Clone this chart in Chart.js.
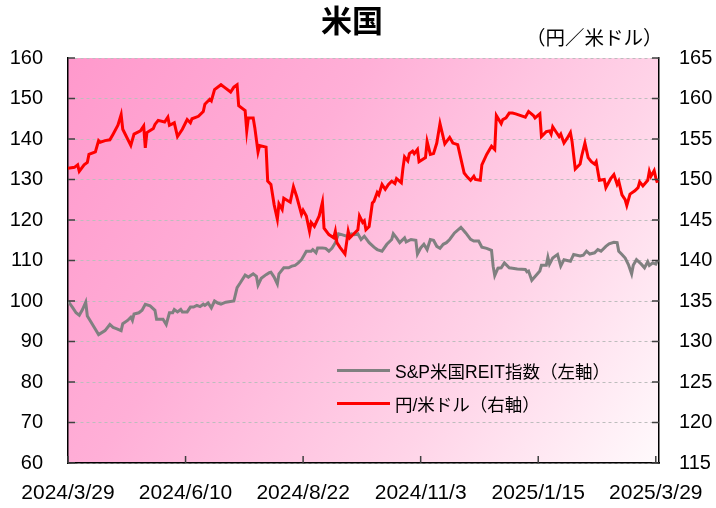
<!DOCTYPE html>
<html lang="ja">
<head>
<meta charset="utf-8">
<title>米国</title>
<script src="https://cdn.jsdelivr.net/npm/chart.js@4.4.1/dist/chart.umd.min.js"></script>
<style>
body { margin: 0; background: #fff; font-family: "Liberation Sans", "Noto Sans CJK JP", sans-serif; }
#wrap { position: relative; width: 716px; height: 508px; }
#title { position: absolute; left: 0; top: 3px; width: 704px; text-align: center; font-size: 31px; line-height: 1; font-weight: bold; font-family: "Noto Sans CJK JP", sans-serif; }
#unit { position: absolute; left: 526px; top: 27px; font-size: 19.5px; line-height: 1; font-family: "Noto Sans CJK JP", sans-serif; }
.item { position: absolute; left: 337px; height: 20px; display: flex; align-items: center; font-size: 17.5px; white-space: nowrap; }
.swatch { width: 53px; height: 3px; margin-right: 5px; }
</style>
</head>
<body>
<div id="wrap">
  <canvas id="canvas" width="716" height="508"></canvas>
  <div id="title">米国</div>
  <div id="unit">（円／米ドル）</div>
  <div id="legend"></div>
</div>
<script>
var tickDays = [0, 73, 146, 219, 292, 365];
var tickLabels = ['2024/3/29', '2024/6/10', '2024/8/22', '2024/11/3', '2025/1/15', '2025/3/29'];

// days since 2024/3/29
var reitDays = [0, 3, 5, 7, 9, 11, 12, 14, 17, 19, 23, 26, 28, 30, 33, 34, 37, 39, 40, 41,
    44, 46, 48, 51, 54, 55, 59, 61, 63, 65, 66, 68, 70, 71, 74, 76, 78, 80, 82, 84,
    85, 87, 89, 91, 93, 95, 98, 103, 105, 107, 110, 112, 115, 117, 118, 120, 123, 125, 126, 128,
    130, 131, 134, 137, 139, 141, 143, 145, 148, 151, 152, 154, 155, 158, 160, 162, 164, 166, 168, 170,
    173, 176, 178, 180, 182, 184, 187, 190, 192, 195, 198, 201, 202, 204, 206, 209, 210, 213, 216, 217,
    219, 221, 223, 225, 227, 229, 231, 233, 235, 237, 240, 244, 247, 250, 252, 255, 257, 260, 263, 264,
    265, 267, 269, 271, 274, 276, 279, 284, 285, 286, 288, 291, 293, 294, 297, 298, 299, 301, 304, 306,
    308, 312, 314, 318, 320, 322, 324, 327, 329, 331, 334, 336, 339, 341, 342, 344, 346, 348, 350, 351,
    353, 356, 358, 360, 361, 363, 365, 366];
var reitValues = [100.0, 98.3, 97.1, 96.5, 97.9, 99.7, 96.3, 95.0, 93.0, 91.7, 92.7, 94.2, 93.5, 93.2, 92.7, 94.4, 95.2, 96.0, 95.2, 96.8,
    97.1, 97.7, 99.2, 98.8, 97.7, 95.5, 95.5, 94.2, 97.1, 97.1, 97.9, 97.3, 97.9, 97.3, 97.3, 98.5, 98.5, 98.9, 98.6, 99.2,
    98.9, 99.5, 98.3, 100.0, 99.5, 99.2, 99.7, 100.0, 103.3, 104.5, 106.4, 105.9, 106.7, 106.1, 103.9, 105.6, 106.5, 107.0, 107.1, 105.9,
    104.2, 106.7, 108.2, 108.2, 108.6, 108.8, 109.4, 110.2, 112.3, 112.3, 112.7, 111.9, 113.1, 113.1, 113.0, 112.3, 113.1, 114.4, 116.6, 116.4,
    116.0, 116.6, 116.4, 116.6, 115.2, 116.0, 114.4, 113.3, 112.7, 112.3, 114.0, 115.2, 116.6, 115.6, 114.4, 115.6, 114.6, 115.2, 115.0, 111.6,
    113.1, 114.0, 112.7, 115.2, 115.0, 113.5, 113.0, 114.0, 114.4, 115.2, 116.8, 118.2, 116.8, 115.2, 114.8, 114.8, 113.3, 113.0, 112.5, 108.6,
    106.3, 108.1, 108.2, 109.4, 108.2, 108.1, 107.9, 107.8, 107.2, 107.4, 105.1, 106.5, 107.4, 108.8, 108.8, 110.8, 109.1, 110.6, 111.5, 108.6,
    110.2, 109.8, 111.5, 111.1, 111.3, 112.3, 111.6, 111.9, 112.7, 112.3, 113.5, 114.1, 114.5, 114.4, 112.3, 111.5, 110.6, 109.0, 106.7, 108.8,
    110.2, 109.1, 108.2, 109.7, 108.8, 109.4, 109.1, 110.0];

var fxDays = [0, 4, 6, 7, 10, 12, 13, 17, 19, 20, 23, 26, 28, 31, 33, 34, 39, 41, 45, 47,
    48, 49, 53, 54, 56, 60, 62, 63, 66, 68, 71, 74, 76, 77, 81, 84, 85, 88, 89, 91,
    95, 97, 101, 103, 105, 106, 110, 111, 112, 115, 116, 118, 119, 123, 124, 126, 128, 130, 131, 133,
    134, 138, 140, 142, 145, 146, 148, 150, 151, 153, 156, 158, 159, 162, 165, 166, 167, 169, 172, 174,
    175, 178, 180, 181, 183, 184, 185, 187, 189, 190, 192, 193, 195, 197, 199, 201, 203, 204, 207, 208,
    209, 211, 212, 214, 215, 217, 218, 222, 223, 225, 227, 229, 231, 234, 237, 239, 242, 246, 248, 250,
    252, 253, 256, 257, 260, 263, 265, 266, 269, 270, 272, 274, 276, 278, 284, 286, 289, 290, 293, 294,
    297, 299, 300, 301, 303, 305, 306, 308, 310, 312, 313, 315, 318, 319, 321, 323, 325, 327, 328, 330,
    333, 334, 337, 339, 341, 342, 344, 346, 347, 349, 352, 354, 355, 357, 360, 361, 362, 364, 365, 366];
var fxValues = [151.4, 151.5, 151.8, 151.0, 151.8, 152.1, 153.1, 153.4, 154.8, 154.6, 154.8, 154.9, 155.6, 156.7, 158.0, 156.2, 154.2, 155.6, 156.0, 156.6,
    153.9, 155.8, 156.3, 156.8, 157.3, 157.1, 157.7, 156.7, 157.0, 155.3, 156.2, 157.4, 157.0, 157.5, 157.8, 158.4, 159.3, 159.9, 159.7, 161.1,
    161.7, 161.4, 160.8, 161.4, 161.7, 159.1, 158.5, 156.0, 157.6, 157.6, 156.4, 153.4, 154.2, 154.0, 149.8, 149.4, 146.9, 145.1, 147.0, 146.3,
    147.7, 147.2, 149.1, 147.9, 145.7, 146.2, 145.5, 143.6, 144.7, 144.2, 145.5, 147.2, 144.0, 143.2, 142.8, 143.6, 142.2, 141.6, 140.8, 143.6,
    142.8, 143.4, 143.8, 145.5, 144.7, 144.9, 143.8, 144.2, 147.1, 147.3, 148.4, 148.1, 149.4, 148.8, 149.4, 149.8, 149.5, 150.1, 149.6, 151.4,
    152.8, 152.3, 153.2, 153.5, 153.2, 153.7, 152.2, 152.7, 154.7, 153.1, 153.2, 154.5, 156.9, 154.4, 155.2, 154.5, 154.3, 150.8, 150.3, 149.9,
    150.4, 150.0, 149.9, 151.8, 153.1, 154.1, 153.7, 157.9, 156.9, 157.4, 157.6, 158.2, 158.2, 158.1, 157.7, 158.4, 157.9, 157.6, 158.1, 155.3,
    155.9, 156.0, 155.6, 156.5, 155.9, 155.3, 155.6, 154.5, 155.1, 155.8, 154.7, 151.3, 151.9, 152.9, 154.5, 152.7, 152.2, 151.9, 152.2, 149.9,
    150.0, 149.0, 150.1, 150.6, 149.4, 149.8, 148.1, 147.5, 146.8, 148.2, 148.6, 149.0, 149.7, 149.2, 149.9, 151.0, 150.4, 151.1, 150.2, 149.6];

function points(days, values) {
    return days.map(function(d, i) { return {x: d, y: values[i]}; });
}

var plotBackground = {
    id: 'plotBackground',
    beforeDraw: function(chart) {
        var a = chart.chartArea, c = chart.ctx;
        var g = c.createLinearGradient(a.left, a.top, a.right, a.bottom);
        g.addColorStop(0, '#ff99cc');
        g.addColorStop(0.35, '#ffafd7');
        g.addColorStop(0.7, '#ffd4e8');
        g.addColorStop(1, '#fffafc');
        c.save();
        c.fillStyle = g;
        c.fillRect(a.left, a.top, a.right - a.left, a.bottom - a.top);
        c.restore();
    }
};

// tick marks point into the plot
var innerTicks = {
    id: 'innerTicks',
    afterDraw: function(chart) {
        var a = chart.chartArea, c = chart.ctx, s = chart.scales;
        c.save();
        c.strokeStyle = '#404040';
        c.lineWidth = 1.5;
        c.beginPath();
        s.y.ticks.forEach(function(t) {
            var p = s.y.getPixelForValue(t.value);
            c.moveTo(a.left, p); c.lineTo(a.left + 7, p);
        });
        s.y1.ticks.forEach(function(t) {
            var p = s.y1.getPixelForValue(t.value);
            c.moveTo(a.right - 7, p); c.lineTo(a.right, p);
        });
        s.x.ticks.forEach(function(t) {
            var p = s.x.getPixelForValue(t.value);
            c.moveTo(p, a.bottom); c.lineTo(p, a.bottom - 7);
        });
        c.stroke();
        c.restore();
    }
};

var tickFont = {family: '"Liberation Sans", Arial, sans-serif', size: 20};

var ctx = document.getElementById('canvas').getContext('2d');
var chart = new Chart(ctx, {
    type: 'line',
    data: {
        datasets: [{
            label: 'S&P米国REIT指数（左軸）',
            data: points(reitDays, reitValues),
            borderColor: '#808080',
            borderWidth: 3,
            pointRadius: 0,
            yAxisID: 'y',
            order: 1
        }, {
            label: '円/米ドル（右軸）',
            data: points(fxDays, fxValues),
            borderColor: '#ff0000',
            borderWidth: 3,
            pointRadius: 0,
            yAxisID: 'y1',
            order: 0
        }]
    },
    options: {
        responsive: false,
        animation: false,
        devicePixelRatio: 1,
        layout: {padding: {top: 58, left: 0, right: 0, bottom: 0}},
        plugins: {legend: {display: false}, tooltip: {enabled: false}},
        scales: {
            x: {
                type: 'linear',
                min: 0,
                max: 367,
                afterBuildTicks: function(s) { s.ticks = tickDays.map(function(v) { return {value: v}; }); },
                afterFit: function(s) { s.height = 45; s.paddingLeft = 0; s.paddingRight = 0; },
                ticks: {
                    callback: function(v) { return tickLabels[tickDays.indexOf(v)]; },
                    autoSkip: false,
                    maxRotation: 0,
                    padding: 18,
                    color: '#000',
                    font: {family: tickFont.family, size: 21}
                },
                grid: {drawOnChartArea: false, drawTicks: false},
                border: {color: '#000', width: 1.5}
            },
            y: {
                position: 'left',
                min: 60,
                max: 160,
                afterFit: function(s) { s.width = 68; },
                ticks: {stepSize: 10, padding: 25, color: '#000', font: tickFont},
                grid: {color: '#bdbdbd', lineWidth: 1, drawTicks: false},
                border: {color: '#000', width: 1.5, dash: [3, 3]}
            },
            y1: {
                position: 'right',
                min: 115,
                max: 165,
                afterFit: function(s) { s.width = 57; },
                ticks: {stepSize: 5, padding: 20, color: '#000', font: tickFont},
                grid: {drawOnChartArea: false, drawTicks: false},
                border: {color: '#000', width: 1.5}
            }
        }
    },
    plugins: [plotBackground, innerTicks]
});

// legend inside the plot, built from the datasets
var legend = document.getElementById('legend');
var legendTops = [360, 393];
chart.data.datasets.forEach(function(ds, i) {
    var item = document.createElement('div');
    item.className = 'item';
    item.style.top = legendTops[i] + 'px';
    var sw = document.createElement('span');
    sw.className = 'swatch';
    sw.style.background = ds.borderColor;
    var tx = document.createElement('span');
    tx.textContent = ds.label;
    item.appendChild(sw);
    item.appendChild(tx);
    legend.appendChild(item);
});
</script>
</body>
</html>
